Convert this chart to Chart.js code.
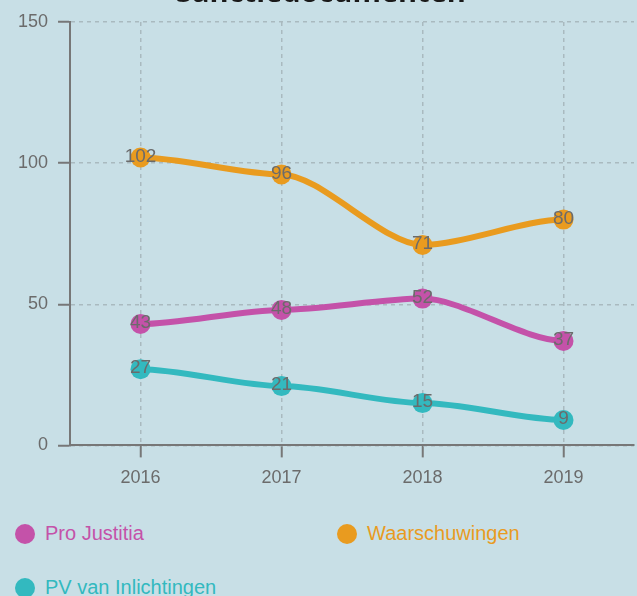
<!DOCTYPE html>
<html>
<head>
<meta charset="utf-8">
<script src="https://cdn.jsdelivr.net/npm/chart.js@4.4.1/dist/chart.umd.min.js"></script>
<style>
  html, body { margin: 0; padding: 0; background: #c8dfe6; }
  #wrap { position: relative; width: 637px; height: 596px; overflow: hidden; background: #c8dfe6; }
  #cv { position: absolute; left: 0; top: -40px; width: 637px; height: 545px; }
  .leg { position: absolute; font-family: "Liberation Sans", Arial, sans-serif; font-size: 20px; line-height: 20px; white-space: nowrap; }
  .leg .dot { position: absolute; left: -30px; top: 1px; width: 20px; height: 20px; border-radius: 50%; }
</style>
</head>
<body>
<div id="wrap">
  <div id="cv"><canvas id="c"></canvas></div>
  <div id="legend"></div>
</div>
<script>
const title = "Sanctiedocumenten";
const categories = ["2016", "2017", "2018", "2019"];
const seriesNames = ["Pro Justitia", "Waarschuwingen", "PV van Inlichtingen"];
const proJustitia = [43, 48, 52, 37];
const waarschuwingen = [102, 96, 71, 80];
const pvInlichtingen = [27, 21, 15, 9];
const yTicks = [0, 50, 100, 150];
const colors = ["#c452a9", "#e99b1f", "#33b9bf"];

const seriesValues = [proJustitia, waarschuwingen, pvInlichtingen];

const labelPlugin = {
  id: 'pointLabels',
  afterDatasetsDraw(chart) {
    const ctx = chart.ctx;
    ctx.save();
    ctx.font = '19px "Liberation Sans", Arial, sans-serif';
    ctx.fillStyle = '#6b6b6b';
    ctx.textAlign = 'center';
    ctx.textBaseline = 'middle';
    chart.data.datasets.forEach((ds, i) => {
      const meta = chart.getDatasetMeta(i);
      meta.data.forEach((el, j) => {
        ctx.fillText(String(ds.data[j]), el.x, el.y - 1);
      });
    });
    ctx.restore();
  }
};

// smooth curve with horizontal tangents at each point (bump-style)
const BUMP = 0.28;
const bumpPlugin = {
  id: 'bumpCurve',
  beforeDatasetsDraw(chart) {
    chart.data.datasets.forEach((ds, i) => {
      const meta = chart.getDatasetMeta(i);
      if (!meta.dataset) return;
      meta.dataset.updateControlPoints(chart.chartArea, meta.iScale.axis);
      const pts = meta.data;
      pts.forEach((p, j) => {
        const prev = pts[j - 1], next = pts[j + 1];
        p.cp1x = prev ? p.x - (p.x - prev.x) * BUMP : p.x;
        p.cp1y = p.y;
        p.cp2x = next ? p.x + (next.x - p.x) * BUMP : p.x;
        p.cp2y = p.y;
      });
      meta.dataset._path = undefined;
    });
  }
};

const gridStyle = {
  color: '#a9babf',
  lineWidth: 1.5,
  drawTicks: true,
  tickLength: 12,
  tickColor: '#777777',
  tickWidth: 2,
  tickBorderDash: []
};

const chart = new Chart(document.getElementById('c'), {
  type: 'line',
  data: {
    labels: categories,
    datasets: seriesNames.map((name, i) => ({
      label: name,
      data: seriesValues[i],
      borderColor: colors[i],
      backgroundColor: colors[i],
      pointBackgroundColor: colors[i],
      pointBorderColor: colors[i],
      borderWidth: 6,
      pointRadius: 10,
      pointBorderWidth: 0,
      tension: 0.4,
      fill: false,
      clip: false
    }))
  },
  options: {
    responsive: true,
    maintainAspectRatio: false,
    animation: false,
    layout: { autoPadding: false, padding: { left: 8, right: 3, top: 0, bottom: 6 } },
    plugins: {
      legend: { display: false },
      tooltip: { enabled: false },
      title: {
        display: true,
        text: title,
        color: '#1a1a1a',
        font: { family: '"Open Sans", sans-serif', size: 29, weight: 'bold', lineHeight: 1.2 },
        padding: { top: 16.8, bottom: 10.4 }
      }
    },
    scales: {
      x: {
        offset: true,
        grid: Object.assign({ offset: false }, gridStyle),
        border: { display: true, color: '#777777', width: 2, dash: [4, 4] },
        ticks: {
          color: '#6b6b6b',
          padding: 10,
          font: { family: '"Liberation Sans", Arial, sans-serif', size: 18 }
        }
      },
      y: {
        min: 0,
        max: 150,
        afterBuildTicks(scale) { scale.ticks = yTicks.map(v => ({ value: v })); },
        grid: Object.assign({}, gridStyle),
        border: { display: true, color: '#777777', width: 2, dash: [4, 4] },
        ticks: {
          color: '#6b6b6b',
          padding: 10,
          font: { family: '"Liberation Sans", Arial, sans-serif', size: 18 }
        }
      }
    }
  },
  plugins: [bumpPlugin, labelPlugin]
});

// HTML legend built from the chart datasets
const legendPos = [[45, 523], [367, 523], [45, 577]];
const legend = document.getElementById('legend');
chart.data.datasets.forEach((ds, i) => {
  const d = document.createElement('div');
  d.className = 'leg';
  d.style.left = legendPos[i][0] + 'px';
  d.style.top = legendPos[i][1] + 'px';
  d.style.color = ds.borderColor;
  d.innerHTML = '<span class="dot" style="background:' + ds.borderColor + '"></span>' + ds.label;
  legend.appendChild(d);
});
</script>
</body>
</html>
